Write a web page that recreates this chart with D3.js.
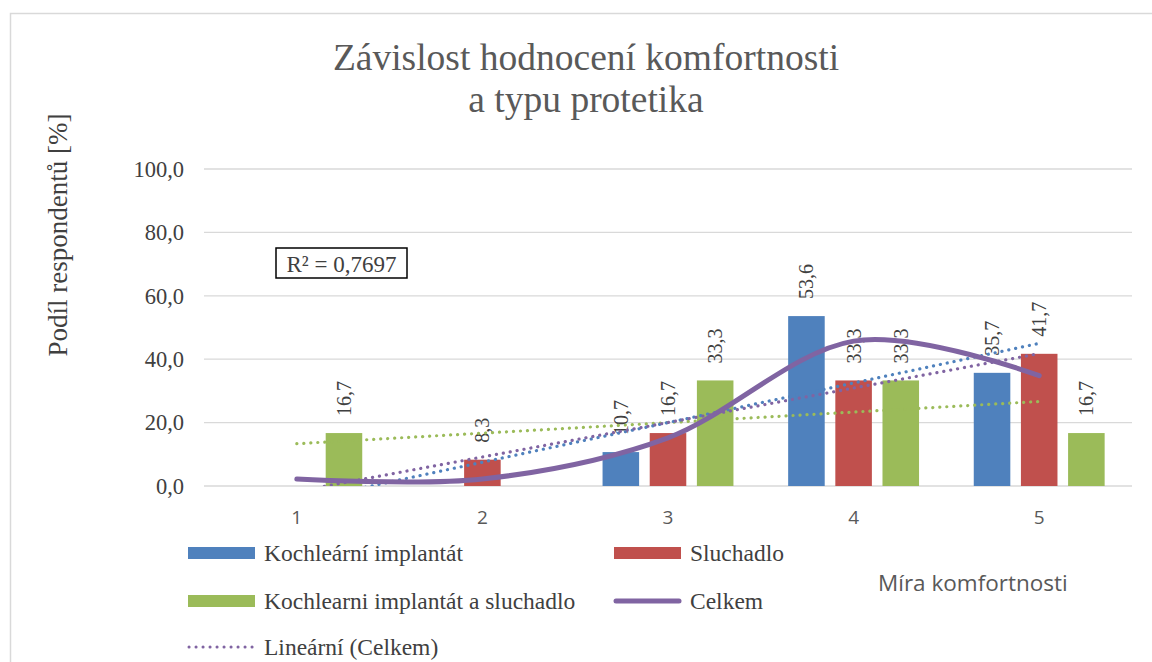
<!DOCTYPE html>
<html>
<head>
<meta charset="utf-8">
<script src="https://cdn.jsdelivr.net/npm/d3@7"></script>
<style>
  body { margin: 0; background: #fff; }
  svg { display: block; }
</style>
</head>
<body>
<div class="canvas"></div>
<script>
// data
const categories = ['1', '2', '3', '4', '5']
const seriesNames = ['Kochleární implantát', 'Sluchadlo', 'Kochlearni implantát a sluchadlo']
const implantat = [0, 0, 10.7, 53.6, 35.7]
const sluchadlo = [0, 8.3, 16.7, 33.3, 41.7]
const kombinace = [16.7, 0, 33.3, 33.3, 16.7]
const celkem = [2.2, 2.2, 15.2, 45.7, 34.8]
const yTicks = [0, 20, 40, 60, 80, 100]
const rSquaredText = 'R² = 0,7697'

const barSeries = [implantat, sluchadlo, kombinace]
const colors = ['#4F81BD', '#C0504D', '#9BBB59']
const purple = '#8064A2'

const serif = '"Liberation Serif", "Times New Roman", serif'
const sans = '"Open Sans", "Liberation Sans", sans-serif'
const textColor = '#404040'

const width = 1152, height = 662
const margin = { top: 169, right: 20, bottom: 176, left: 204 }
const graphWidth = width - margin.left - margin.right
const graphHeight = height - margin.top - margin.bottom

const svg = d3.select('.canvas')
    .append('svg')
    .attr('width', width)
    .attr('height', height)

// outer chart frame
svg.append('rect')
    .attr('x', 10.5)
    .attr('y', 13.5)
    .attr('width', width + 20)
    .attr('height', height + 20)
    .attr('fill', 'none')
    .attr('stroke', '#d9d9d9')
    .attr('stroke-width', 1.5)

const graph = svg.append('g')
    .attr('transform', `translate(${margin.left}, ${margin.top})`)

svg.append('defs').append('clipPath')
    .attr('id', 'plot-clip')
    .append('rect')
    .attr('width', graphWidth)
    .attr('height', graphHeight)

// scales
const x0 = d3.scaleBand().domain(categories).range([0, graphWidth])
const x1 = d3.scaleBand().domain([0, 1, 2])
    .range([0, x0.bandwidth()])
    .paddingInner(0.225)
    .paddingOuter(0.58)
const y = d3.scaleLinear().domain([0, 100]).range([graphHeight, 0])
const cx = c => x0(c) + x0.bandwidth() / 2
const fmt = d => d.toFixed(1).replace('.', ',')

// gridlines + y labels
graph.append('g')
    .attr('class', 'grid')
    .selectAll('line')
    .data(yTicks).enter()
    .append('line')
    .attr('x1', 0)
    .attr('x2', graphWidth)
    .attr('y1', d => y(d))
    .attr('y2', d => y(d))
    .attr('stroke', '#d9d9d9')
    .attr('stroke-width', 1.3)

const yAxisGroup = graph.append('g')
    .attr('class', 'y-axis')
    .attr('transform', 'translate(-20, 0)')
yAxisGroup.call(d3.axisLeft(y).tickValues(yTicks).tickFormat(fmt).tickSize(0).tickPadding(0))
yAxisGroup.select('.domain').remove()
yAxisGroup.selectAll('text')
    .attr('fill', textColor)
    .style('font-family', serif)
    .style('font-size', '22.5px')

// x labels
const xAxisGroup = graph.append('g')
    .attr('class', 'x-axis')
    .attr('transform', `translate(0, ${graphHeight + 24})`)
xAxisGroup.call(d3.axisBottom(x0).tickSize(0).tickPadding(0))
xAxisGroup.select('.domain').remove()
xAxisGroup.selectAll('text')
    .attr('fill', '#595959')
    .style('font-family', sans)
    .style('font-size', '19px')

// bars
const groups = graph.append('g')
    .attr('class', 'bars')
    .selectAll('g')
    .data(barSeries).enter()
    .append('g')
    .attr('fill', (d, i) => colors[i])

groups.selectAll('rect')
    .data((d, i) => d.map((v, j) => ({ v, cat: categories[j], s: i })))
    .enter()
    .append('rect')
    .attr('x', d => x0(d.cat) + x1(d.s))
    .attr('y', d => y(d.v))
    .attr('width', x1.bandwidth())
    .attr('height', d => graphHeight - y(d.v))

// trendlines (linear least squares, like Excel)
const linearFit = vals => {
    const xs = vals.map((v, i) => i + 1)
    const mx = d3.mean(xs), my = d3.mean(vals)
    const sxy = d3.sum(xs, (xv, i) => (xv - mx) * (vals[i] - my))
    const sxx = d3.sum(xs, xv => (xv - mx) * (xv - mx))
    const slope = sxy / sxx
    const icpt = my - slope * mx
    return [1, categories.length].map(k => ({ cat: categories[k - 1], v: icpt + slope * k }))
}

const trendLine = d3.line()
    .x(d => cx(d.cat))
    .y(d => y(d.v))

const trends = graph.append('g')
    .attr('class', 'trends')
    .attr('clip-path', 'url(#plot-clip)')

const trendData = [
    { vals: kombinace, color: colors[2] },
    { vals: implantat, color: colors[0] },
    { vals: celkem, color: purple }
]

trends.selectAll('path')
    .data(trendData).enter()
    .append('path')
    .attr('d', d => trendLine(linearFit(d.vals)))
    .attr('fill', 'none')
    .attr('stroke', d => d.color)
    .attr('stroke-width', 3.2)
    .attr('stroke-linecap', 'round')
    .attr('stroke-dasharray', '0.1 6.9')

// Celkem smoothed line
const smoothLine = d3.line()
    .x((d, i) => cx(categories[i]))
    .y(d => y(d))
    .curve(d3.curveCatmullRom.alpha(0))

graph.append('path')
    .attr('d', smoothLine(celkem))
    .attr('fill', 'none')
    .attr('stroke', purple)
    .attr('stroke-width', 5)
    .attr('stroke-linecap', 'round')

// data labels
groups.selectAll('text')
    .data((d, i) => d.map((v, j) => ({ v, cat: categories[j], s: i })).filter(d => d.v > 0))
    .enter()
    .append('text')
    .attr('transform', d => `translate(${x0(d.cat) + x1(d.s) + x1.bandwidth() / 2}, ${y(d.v) - 17}) rotate(-90)`)
    .attr('dy', '0.35em')
    .attr('fill', textColor)
    .style('font-family', serif)
    .style('font-size', '20px')
    .text(d => fmt(d.v))

// R² box
const rBox = svg.append('g').attr('transform', 'translate(276, 248)')
rBox.append('rect')
    .attr('width', 131)
    .attr('height', 30)
    .attr('fill', '#fff')
    .attr('stroke', '#000')
    .attr('stroke-width', 1.5)
rBox.append('text')
    .attr('x', 65.5)
    .attr('y', 24)
    .attr('text-anchor', 'middle')
    .attr('fill', textColor)
    .style('font-family', serif)
    .style('font-size', '23px')
    .text(rSquaredText)

// title
const title = svg.append('text')
    .attr('text-anchor', 'middle')
    .attr('fill', '#595959')
    .style('font-family', serif)
    .style('font-size', '37.5px')
title.append('tspan').attr('x', 586).attr('y', 70).text('Závislost hodnocení komfortnosti')
title.append('tspan').attr('x', 586).attr('y', 112).text('a typu protetika')

// axis titles
svg.append('text')
    .attr('transform', 'translate(67, 235) rotate(-90)')
    .attr('text-anchor', 'middle')
    .attr('fill', textColor)
    .style('font-family', serif)
    .style('font-size', '27px')
    .text('Podíl respondentů [%]')

svg.append('text')
    .attr('x', 878)
    .attr('y', 591)
    .attr('fill', '#595959')
    .style('font-family', sans)
    .style('font-size', '22.5px')
    .text('Míra komfortnosti')

// legend
const legendItems = [
    { name: seriesNames[0], type: 'rect', color: colors[0], x: 188, y: 553 },
    { name: seriesNames[1], type: 'rect', color: colors[1], x: 614, y: 553 },
    { name: seriesNames[2], type: 'rect', color: colors[2], x: 188, y: 601 },
    { name: 'Celkem', type: 'line', color: purple, x: 614, y: 601 },
    { name: 'Lineární (Celkem)', type: 'dot', color: purple, x: 188, y: 647 }
]

const legend = svg.append('g')
    .attr('class', 'legend')
    .selectAll('g')
    .data(legendItems).enter()
    .append('g')
    .attr('transform', d => `translate(${d.x}, ${d.y})`)

legend.filter(d => d.type === 'rect').append('rect')
    .attr('y', -6)
    .attr('width', 67)
    .attr('height', 12)
    .attr('fill', d => d.color)

legend.filter(d => d.type !== 'rect').append('line')
    .attr('x1', d => d.type === 'line' ? 2 : 1)
    .attr('x2', 65)
    .attr('stroke', d => d.color)
    .attr('stroke-width', d => d.type === 'line' ? 5 : 3)
    .attr('stroke-linecap', 'round')
    .attr('stroke-dasharray', d => d.type === 'dot' ? '0.1 6.9' : null)

legend.append('text')
    .attr('x', 76)
    .attr('dy', '0.35em')
    .attr('fill', textColor)
    .style('font-family', serif)
    .style('font-size', '23.5px')
    .text(d => d.name)
</script>
</body>
</html>
